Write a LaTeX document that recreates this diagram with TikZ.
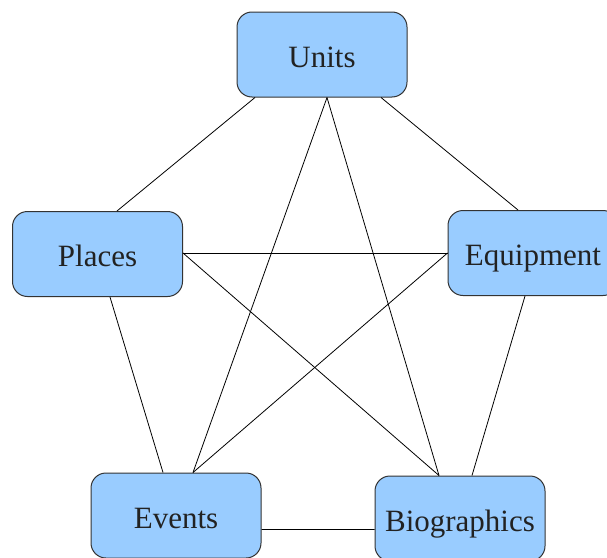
\documentclass[tikz,border=0pt]{standalone}
\usepackage{fontspec}
\setmainfont{Liberation Serif}
\usepackage{xcolor}
\definecolor{boxblue}{HTML}{99CCFF}
\definecolor{boxline}{HTML}{333333}
\definecolor{boxtext}{HTML}{222222}

\begin{document}
\begin{tikzpicture}[node distance=199.5bp,
    topic/.style={rectangle, draw=boxline, line width=1bp, fill=boxblue, rounded corners=15bp,
                  minimum width=170bp, minimum height=85bp, inner sep=0pt,
                  text height=25bp, text depth=0bp,
                  text=boxtext, font=\fontsize{31bp}{36bp}\selectfont},
    link/.style={draw=black, line width=0.8bp}]
                    \useasboundingbox (0,0) rectangle (607bp,-558bp);

                    \node (units) [topic] at (322bp,-54.5bp) {Units};
                    \node (places) [topic, below of=units, xshift=-224.5bp] {Places};
                    \node (equipment) [topic, below of=units, xshift=211bp, yshift=1bp] {Equipment};
                    \node (events) [topic, below of=places, xshift=78.5bp, yshift=-62bp] {Events};
                    \node (bio) [topic, below of=equipment, xshift=-73bp, yshift=-66bp] {Biographics};

                    % outer ring
                    \draw[link] ([xshift=-67bp]units.south) -- ([xshift=19.5bp]places.north);
                    \draw[link] ([xshift=59bp]units.south) -- ([xshift=-15bp]equipment.north);
                    \draw[link] ([xshift=12.5bp]places.south) -- ([xshift=-13bp]events.north);
                    \draw[link] ([xshift=-8bp]equipment.south) -- ([xshift=12bp]bio.north);
                    \draw[link] ([yshift=-14bp]events.east) -- ([yshift=-11bp]bio.west);

                    % star
                    \draw[link] ([xshift=5bp]units.south) -- ([xshift=17bp]events.north);
                    \draw[link] ([xshift=5bp]units.south) -- ([xshift=-21bp]bio.north);
                    \draw[link] ([yshift=1bp]places.east) -- (equipment.west);
                    \draw[link] ([yshift=1bp]places.east) -- ([xshift=-21bp]bio.north);
                    \draw[link] (equipment.west) -- ([xshift=17bp]events.north);

                \end{tikzpicture}
\end{document}
